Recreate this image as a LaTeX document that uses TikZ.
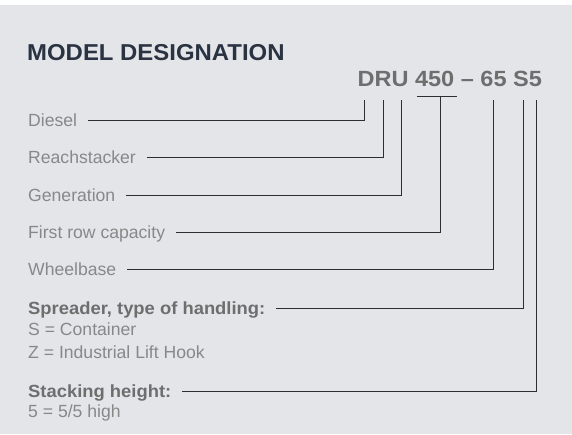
\documentclass[tikz,border=0pt]{standalone}
\usepackage{fontspec}
\setmainfont{Liberation Sans}
\definecolor{panelbg}{HTML}{E4E5E9}
\definecolor{titleink}{HTML}{2A3342}
\definecolor{codeink}{HTML}{6E6E6E}
\definecolor{keyink}{HTML}{888888}
\definecolor{leadink}{HTML}{2E2E2E}
\tikzset{
  keytext/.style={anchor=base west, inner sep=0pt, text=keyink, font=\fontsize{17.6}{21}\selectfont},
  keyhead/.style={keytext, text=codeink, xscale=1.045, font=\fontsize{17.6}{21}\selectfont\bfseries},
  leader/.style={draw=leadink, line width=0.9pt},
}
\begin{document}
\begin{tikzpicture}[x=1pt,y=-1pt]
\useasboundingbox (0,0) rectangle (572,434);

% Drawing panel
\fill [panelbg] (0,5) rectangle (572,434);%

% Marking heading
\node [anchor=base west, inner sep=0pt, text=titleink, xscale=1.04, font=\fontsize{23}{27}\selectfont\bfseries] (title) at (27,60) {MODEL DESIGNATION};%

% Marking designation
\node [anchor=base west, inner sep=0pt, text=codeink, xscale=1.07, font=\fontsize{22}{26}\selectfont\bfseries] (code) at (357.3,86.7) {DRU 450 – 65 S5};%

% Tops of the leaders, below the letters
\coordinate (tD) at (364.3,100);
\coordinate (tR) at (383.3,100);
\coordinate (tU) at (401.7,100);
\coordinate (tcap) at (440,96.7);
\coordinate (barL) at (417,96.7);
\coordinate (barR) at (457,96.7);
\coordinate (twb) at (493.3,100);
\coordinate (tS) at (523.3,100);
\coordinate (th) at (536,100);

% Marking the keys
\node [keytext] (diesel) at (28,126) {Diesel};%
\node [keytext] (reach) at (28,163.3) {Reachstacker};%
\node [keytext] (gen) at (28,201) {Generation};%
\node [keytext] (rowcap) at (28,238.3) {First row capacity};%
\node [keytext] (wheel) at (28,275.7) {Wheelbase};%
\node [keyhead] (spread) at (28,314) {Spreader, type of handling:};%
\node [keytext] (sopt) at (28,335.7) {S = Container};%
\node [keytext] (zopt) at (28,358.3) {Z = Industrial Lift Hook};%
\node [keyhead] (stack) at (28,397.3) {Stacking height:};%
\node [keytext] (hopt) at (28,417.3) {5 = 5/5 high};%

% Drawing the leaders
\draw [leader] (barL) -- (barR);%
\draw [leader] ([shift={(10.7pt,6pt)}]diesel.base east) -| (tD);%
\draw [leader] ([shift={(10.7pt,6pt)}]reach.base east) -| (tR);%
\draw [leader] ([shift={(10.7pt,6pt)}]gen.base east) -| (tU);%
\draw [leader] ([shift={(10.7pt,6pt)}]rowcap.base east) -| (tcap);%
\draw [leader] ([shift={(10.7pt,6pt)}]wheel.base east) -| (twb);%
\draw [leader] ([shift={(10.7pt,6pt)}]spread.base east) -| (tS);%
\draw [leader] ([shift={(10.7pt,6pt)}]stack.base east) -| (th);%
\end{tikzpicture}
\end{document}
